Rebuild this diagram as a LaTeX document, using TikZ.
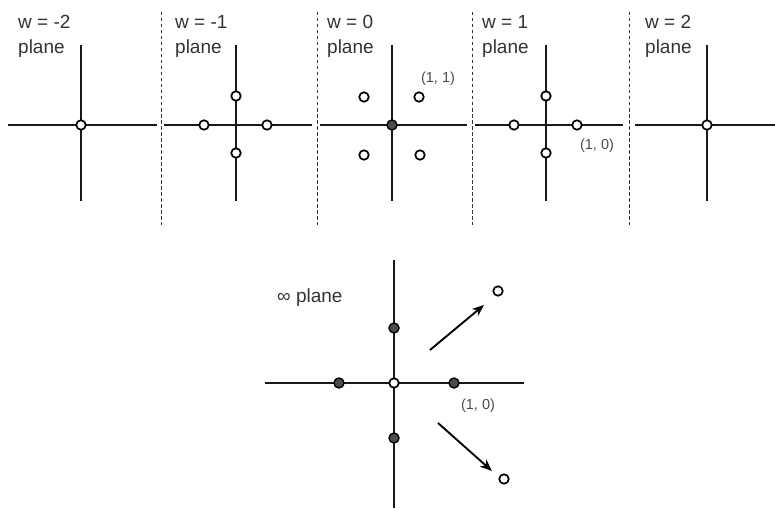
\documentclass[tikz,border=0pt]{standalone}
\usepackage{fontspec}
\setmainfont{Liberation Sans}
\usetikzlibrary{arrows.meta}
\begin{document}
\begin{tikzpicture}[x=1pt,y=-1pt,
  axis/.style={line width=2.2pt,black!90},
  divider/.style={line width=1pt,dash pattern=on 3.5pt off 2.5pt,black!80},
  opendot/.style={circle,draw=black,line width=1.7pt,fill=white,minimum size=9.5pt,inner sep=0pt},
  filldot/.style={circle,draw=black,line width=1.4pt,fill=black!70,minimum size=10pt,inner sep=0pt},
  lbl/.style={anchor=base west,align=left,font=\fontsize{19}{25}\selectfont,text=black!80,inner sep=0pt},
  small/.style={font=\fontsize{14.5}{17}\selectfont,text=black!70,inner sep=0pt},
  arr/.style={line width=1.9pt,-{Stealth[length=12pt,width=9.5pt]}}]
\useasboundingbox (0,0) rectangle (775,508);
% dividers
\foreach \i/\x in {1/161,2/317,3/472,4/629}{
  \coordinate (dt\i) at (\x,12); \coordinate (db\i) at (\x,225);
  \draw[divider] (dt\i) -- (db\i);}
% plane labels
\node[lbl] (l1) at (18,54) {w = -2\\plane};
\node[lbl] (l2) at (175,54) {w = -1\\plane};
\node[lbl] (l3) at (327,54) {w = 0\\plane};
\node[lbl] (l4) at (482,54) {w = 1\\plane};
\node[lbl] (l5) at (645,54) {w = 2\\plane};
% axes top
\foreach \i/\l/\r/\c in {1/8/157/81,2/164/312/236,3/320/467/392,4/475/623/546,5/635/775/707}{
  \coordinate (hl\i) at (\l,125); \coordinate (hr\i) at (\r,125);
  \coordinate (vt\i) at (\c,45); \coordinate (vb\i) at (\c,201);
  \draw[axis] (hl\i) -- (hr\i);
  \draw[axis] (vt\i) -- (vb\i);}
% plane -2
\node[opendot] (a0) at (81,125) {};
% plane -1
\node[opendot] (b1) at (204,125) {};
\node[opendot] (b2) at (267,125) {};
\node[opendot] (b3) at (236,96) {};
\node[opendot] (b4) at (236,153) {};
% plane 0
\node[filldot] (c0) at (392,125) {};
\node[opendot] (c1) at (364,97) {};
\node[opendot] (c2) at (419,97) {};
\node[opendot] (c3) at (364,155) {};
\node[opendot] (c4) at (420,155) {};
\node[small] (c11) at (438,79) {(1, 1)};
% plane 1
\node[opendot] (d1) at (514,125) {};
\node[opendot] (d2) at (577,125) {};
\node[opendot] (d3) at (546,96) {};
\node[opendot] (d4) at (546,153) {};
\node[small] (d10) at (597,146) {(1, 0)};
% plane 2
\node[opendot] (e0) at (707,125) {};
% infinity plane
\coordinate (iv1) at (394,260); \coordinate (iv2) at (394,508);
\coordinate (ih1) at (265,383); \coordinate (ih2) at (524,383);
\draw[axis] (iv1) -- (iv2);
\draw[axis] (ih1) -- (ih2);
\node[filldot] (f1) at (394,328) {};
\node[filldot] (f2) at (339,383) {};
\node[filldot] (f3) at (454,383) {};
\node[filldot] (f4) at (394,438) {};
\node[opendot] (f0) at (394,383) {};
\node[opendot] (g1) at (498,291) {};
\node[opendot] (g2) at (504,479) {};
\coordinate (a1s) at (430,350); \coordinate (a1e) at (484,305);
\coordinate (a2s) at (438,423); \coordinate (a2e) at (492,471);
\draw[arr] (a1s) -- (a1e);
\draw[arr] (a2s) -- (a2e);
\node[lbl] (inf) at (277,302) {∞ plane};
\node[small] (f10) at (478,406) {(1, 0)};
\end{tikzpicture}
\end{document}
